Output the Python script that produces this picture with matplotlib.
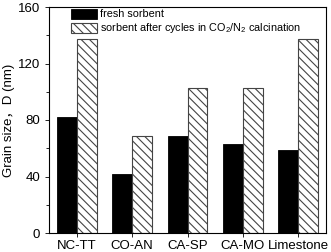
import numpy as np
import matplotlib
matplotlib.use("Agg")
import matplotlib.pyplot as plt
from matplotlib.ticker import MultipleLocator

plt.rcParams["font.family"] = ["Liberation Sans", "Noto Sans CJK SC"]
plt.rcParams["mathtext.fontset"] = "custom"
plt.rcParams["mathtext.rm"] = "Liberation Sans"
plt.rcParams["hatch.linewidth"] = 0.8

categories = ["NC-TT", "CO-AN", "CA-SP", "CA-MO", "Limestone"]
fresh = [82, 42, 69, 63, 59]
cycled = [137, 69, 103, 103, 137]

fig = plt.figure(figsize=(3.31, 2.52), dpi=100)
ax = fig.add_axes([49 / 331, 1 - 233 / 252, 277 / 331, 226 / 252])

x = np.arange(1, len(categories) + 1)
w = 0.36
ax.bar(x - w / 2, fresh, w, color="black", edgecolor="black", lw=0.6,
       label="fresh sorbent")
ax.bar(x + w / 2, cycled, w, color="white", edgecolor="#444444", lw=0.8,
       hatch="\\\\\\\\", label="sorbent after cycles in CO$_\\mathrm{2}$/N$_\\mathrm{2}$ calcination")

ax.set_xlim(0.5, 5.5)
ax.set_ylim(0, 160)
ax.set_xticks(x)
ax.set_xticklabels(categories, fontsize=9.5)
ax.yaxis.set_major_locator(MultipleLocator(40))
ax.yaxis.set_minor_locator(MultipleLocator(20))
ax.tick_params(axis="y", labelsize=9.5, direction="out", length=3, width=0.6)
ax.tick_params(axis="y", which="minor", direction="out", length=2, width=0.6)
ax.tick_params(axis="x", direction="out", length=3, width=0.6, pad=2)
ax.set_ylabel("Grain size\uff0cD (nm)", fontsize=9.5, labelpad=2)
for s in ax.spines.values():
    s.set_linewidth(0.8)

ax.legend(loc="upper left", bbox_to_anchor=(0.079, 0.993), frameon=False,
          fontsize=7.8, handlelength=2.45, handleheight=1.05,
          handletextpad=0.2, labelspacing=0.2, borderaxespad=0, borderpad=0)

fig.savefig("out.png", dpi=100)
